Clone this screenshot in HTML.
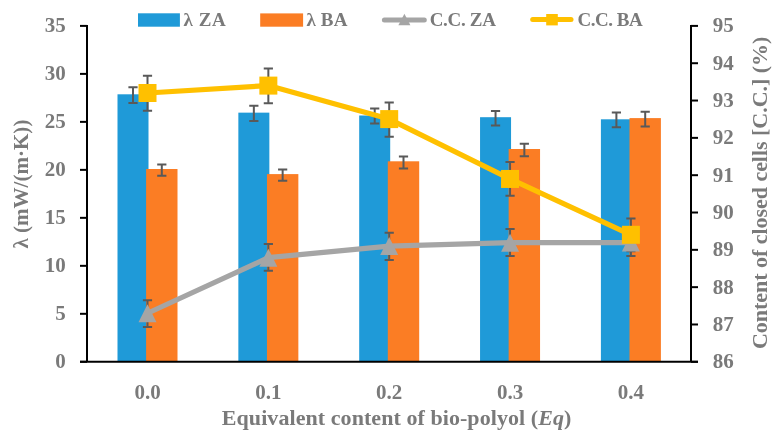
<!DOCTYPE html>
<html><head><meta charset="utf-8"><title>Chart</title>
<style>
html,body{margin:0;padding:0;background:#fff;}
body{width:779px;height:436px;overflow:hidden;}
svg{display:block;will-change:transform;}
text{font-family:"Liberation Serif", serif;font-weight:bold;fill:#7a7a7a;}
</style></head><body>
<svg width="779" height="436" viewBox="0 0 779 436">
<rect width="779" height="436" fill="#fff"/>

<rect x="117.50" y="94.30" width="31" height="267.50" fill="#1F9AD8"/>
<rect x="146.10" y="169.00" width="31.4" height="192.80" fill="#FB7D24"/>
<rect x="238.35" y="112.65" width="31" height="249.15" fill="#1F9AD8"/>
<rect x="266.95" y="174.10" width="31.4" height="187.70" fill="#FB7D24"/>
<rect x="359.20" y="115.50" width="31" height="246.30" fill="#1F9AD8"/>
<rect x="387.80" y="161.30" width="31.4" height="200.50" fill="#FB7D24"/>
<rect x="480.05" y="117.20" width="31" height="244.60" fill="#1F9AD8"/>
<rect x="508.65" y="149.00" width="31.4" height="212.80" fill="#FB7D24"/>
<rect x="600.90" y="119.30" width="31" height="242.50" fill="#1F9AD8"/>
<rect x="629.50" y="118.10" width="31.4" height="243.70" fill="#FB7D24"/>
<path d="M133.00 87.20V103.00M128.40 87.20H137.60M128.40 103.00H137.60" stroke="#595959" stroke-width="2" fill="none"/>
<path d="M161.80 164.40V175.70M157.20 164.40H166.40M157.20 175.70H166.40" stroke="#595959" stroke-width="2" fill="none"/>
<path d="M253.85 105.80V120.90M249.25 105.80H258.45M249.25 120.90H258.45" stroke="#595959" stroke-width="2" fill="none"/>
<path d="M282.65 169.40V180.70M278.05 169.40H287.25M278.05 180.70H287.25" stroke="#595959" stroke-width="2" fill="none"/>
<path d="M374.70 108.60V123.40M370.10 108.60H379.30M370.10 123.40H379.30" stroke="#595959" stroke-width="2" fill="none"/>
<path d="M403.50 156.60V168.50M398.90 156.60H408.10M398.90 168.50H408.10" stroke="#595959" stroke-width="2" fill="none"/>
<path d="M495.55 111.00V125.50M490.95 111.00H500.15M490.95 125.50H500.15" stroke="#595959" stroke-width="2" fill="none"/>
<path d="M524.35 143.80V156.30M519.75 143.80H528.95M519.75 156.30H528.95" stroke="#595959" stroke-width="2" fill="none"/>
<path d="M616.40 112.60V127.30M611.80 112.60H621.00M611.80 127.30H621.00" stroke="#595959" stroke-width="2" fill="none"/>
<path d="M645.20 111.70V126.60M640.60 111.70H649.80M640.60 126.60H649.80" stroke="#595959" stroke-width="2" fill="none"/>
<path d="M147.50 300.20V327.10M142.90 300.20H152.10M142.90 327.10H152.10" stroke="#595959" stroke-width="2" fill="none"/>
<path d="M147.50 75.70V110.70M142.90 75.70H152.10M142.90 110.70H152.10" stroke="#595959" stroke-width="2" fill="none"/>
<path d="M268.35 244.00V270.70M263.75 244.00H272.95M263.75 270.70H272.95" stroke="#595959" stroke-width="2" fill="none"/>
<path d="M268.35 68.50V103.20M263.75 68.50H272.95M263.75 103.20H272.95" stroke="#595959" stroke-width="2" fill="none"/>
<path d="M389.20 232.80V259.90M384.60 232.80H393.80M384.60 259.90H393.80" stroke="#595959" stroke-width="2" fill="none"/>
<path d="M389.20 102.40V136.80M384.60 102.40H393.80M384.60 136.80H393.80" stroke="#595959" stroke-width="2" fill="none"/>
<path d="M510.05 229.00V255.90M505.45 229.00H514.65M505.45 255.90H514.65" stroke="#595959" stroke-width="2" fill="none"/>
<path d="M510.05 162.10V195.70M505.45 162.10H514.65M505.45 195.70H514.65" stroke="#595959" stroke-width="2" fill="none"/>
<path d="M630.90 229.00V256.00M626.30 229.00H635.50M626.30 256.00H635.50" stroke="#595959" stroke-width="2" fill="none"/>
<path d="M630.90 218.40V251.20M626.30 218.40H635.50M626.30 251.20H635.50" stroke="#595959" stroke-width="2" fill="none"/>
<path d="M80 361.8H698" stroke="#000" stroke-width="2" fill="none"/>
<path d="M87 24.9V361.8" stroke="#000" stroke-width="2" fill="none"/>
<path d="M691 24.9V361.8" stroke="#000" stroke-width="2" fill="none"/>
<path d="M80 361.80H87" stroke="#000" stroke-width="2"/>
<path d="M80 313.81H87" stroke="#000" stroke-width="2"/>
<path d="M80 265.83H87" stroke="#000" stroke-width="2"/>
<path d="M80 217.84H87" stroke="#000" stroke-width="2"/>
<path d="M80 169.86H87" stroke="#000" stroke-width="2"/>
<path d="M80 121.87H87" stroke="#000" stroke-width="2"/>
<path d="M80 73.89H87" stroke="#000" stroke-width="2"/>
<path d="M80 25.90H87" stroke="#000" stroke-width="2"/>
<path d="M691 361.80H698" stroke="#000" stroke-width="2"/>
<path d="M691 324.48H698" stroke="#000" stroke-width="2"/>
<path d="M691 287.16H698" stroke="#000" stroke-width="2"/>
<path d="M691 249.83H698" stroke="#000" stroke-width="2"/>
<path d="M691 212.51H698" stroke="#000" stroke-width="2"/>
<path d="M691 175.19H698" stroke="#000" stroke-width="2"/>
<path d="M691 137.87H698" stroke="#000" stroke-width="2"/>
<path d="M691 100.54H698" stroke="#000" stroke-width="2"/>
<path d="M691 63.22H698" stroke="#000" stroke-width="2"/>
<path d="M691 25.90H698" stroke="#000" stroke-width="2"/>
<polyline points="147.50,313.25 268.35,257.70 389.20,246.10 510.05,242.70 630.90,242.60" stroke="#A5A5A5" stroke-width="5.2" fill="none" stroke-linejoin="round"/>
<path d="M147.50 304.25L156.50 322.25H138.50Z" fill="#A5A5A5"/>
<path d="M268.35 248.70L277.35 266.70H259.35Z" fill="#A5A5A5"/>
<path d="M389.20 237.10L398.20 255.10H380.20Z" fill="#A5A5A5"/>
<path d="M510.05 233.70L519.05 251.70H501.05Z" fill="#A5A5A5"/>
<path d="M630.90 233.60L639.90 251.60H621.90Z" fill="#A5A5A5"/>
<polyline points="147.50,93.00 268.35,85.60 389.20,119.10 510.05,178.95 630.90,234.80" stroke="#FFC000" stroke-width="5.2" fill="none" stroke-linejoin="round"/>
<rect x="138.50" y="84.00" width="18" height="18" fill="#FFC000"/>
<rect x="259.35" y="76.60" width="18" height="18" fill="#FFC000"/>
<rect x="380.20" y="110.10" width="18" height="18" fill="#FFC000"/>
<rect x="501.05" y="169.95" width="18" height="18" fill="#FFC000"/>
<rect x="621.90" y="225.80" width="18" height="18" fill="#FFC000"/>
<text x="65.8" y="368.30" font-size="21" text-anchor="end">0</text>
<text x="65.8" y="320.31" font-size="21" text-anchor="end">5</text>
<text x="65.8" y="272.33" font-size="21" text-anchor="end">10</text>
<text x="65.8" y="224.34" font-size="21" text-anchor="end">15</text>
<text x="65.8" y="176.36" font-size="21" text-anchor="end">20</text>
<text x="65.8" y="128.37" font-size="21" text-anchor="end">25</text>
<text x="65.8" y="80.39" font-size="21" text-anchor="end">30</text>
<text x="65.8" y="32.40" font-size="21" text-anchor="end">35</text>
<text x="712.7" y="368.30" font-size="21">86</text>
<text x="712.7" y="330.98" font-size="21">87</text>
<text x="712.7" y="293.66" font-size="21">88</text>
<text x="712.7" y="256.33" font-size="21">89</text>
<text x="712.7" y="219.01" font-size="21">90</text>
<text x="712.7" y="181.69" font-size="21">91</text>
<text x="712.7" y="144.37" font-size="21">92</text>
<text x="712.7" y="107.04" font-size="21">93</text>
<text x="712.7" y="69.72" font-size="21">94</text>
<text x="712.7" y="32.40" font-size="21">95</text>
<text x="147.50" y="398.5" font-size="21" text-anchor="middle">0.0</text>
<text x="268.35" y="398.5" font-size="21" text-anchor="middle">0.1</text>
<text x="389.20" y="398.5" font-size="21" text-anchor="middle">0.2</text>
<text x="510.05" y="398.5" font-size="21" text-anchor="middle">0.3</text>
<text x="630.90" y="398.5" font-size="21" text-anchor="middle">0.4</text>
<text x="221.8" y="424.8" font-size="22" textLength="349.5" lengthAdjust="spacing">Equivalent content of bio-polyol (<tspan font-style="italic">Eq</tspan>)</text>
<text transform="translate(28 248.6) rotate(-90)" font-size="21" textLength="129" lengthAdjust="spacing">λ (mW/(m·K))</text>
<text transform="translate(767 349) rotate(-90)" font-size="22" textLength="312.3" lengthAdjust="spacing">Content of closed cells [C.C.] (%)</text>
<rect x="138" y="13.3" width="41.9" height="13.4" fill="#1F9AD8"/>
<text x="183.4" y="26" font-size="19" textLength="42.4" lengthAdjust="spacing">λ ZA</text>
<rect x="260.2" y="13.4" width="42.9" height="13.3" fill="#FB7D24"/>
<text x="306.4" y="26" font-size="19" textLength="41" lengthAdjust="spacing">λ BA</text>
<path d="M384.4 20H424.3" stroke="#A5A5A5" stroke-width="5" stroke-linecap="round"/>
<path d="M404.4 13.7L410.4 25.2H398.4Z" fill="#A5A5A5"/>
<text x="429.7" y="26" font-size="19" textLength="66.2" lengthAdjust="spacing">C.C. ZA</text>
<path d="M532.7 19.5H571" stroke="#FFC000" stroke-width="5" stroke-linecap="round"/>
<rect x="546.2" y="14" width="11.6" height="11.4" fill="#FFC000"/>
<text x="577.4" y="26" font-size="19" textLength="65.3" lengthAdjust="spacing">C.C. BA</text>
</svg>
</body></html>
